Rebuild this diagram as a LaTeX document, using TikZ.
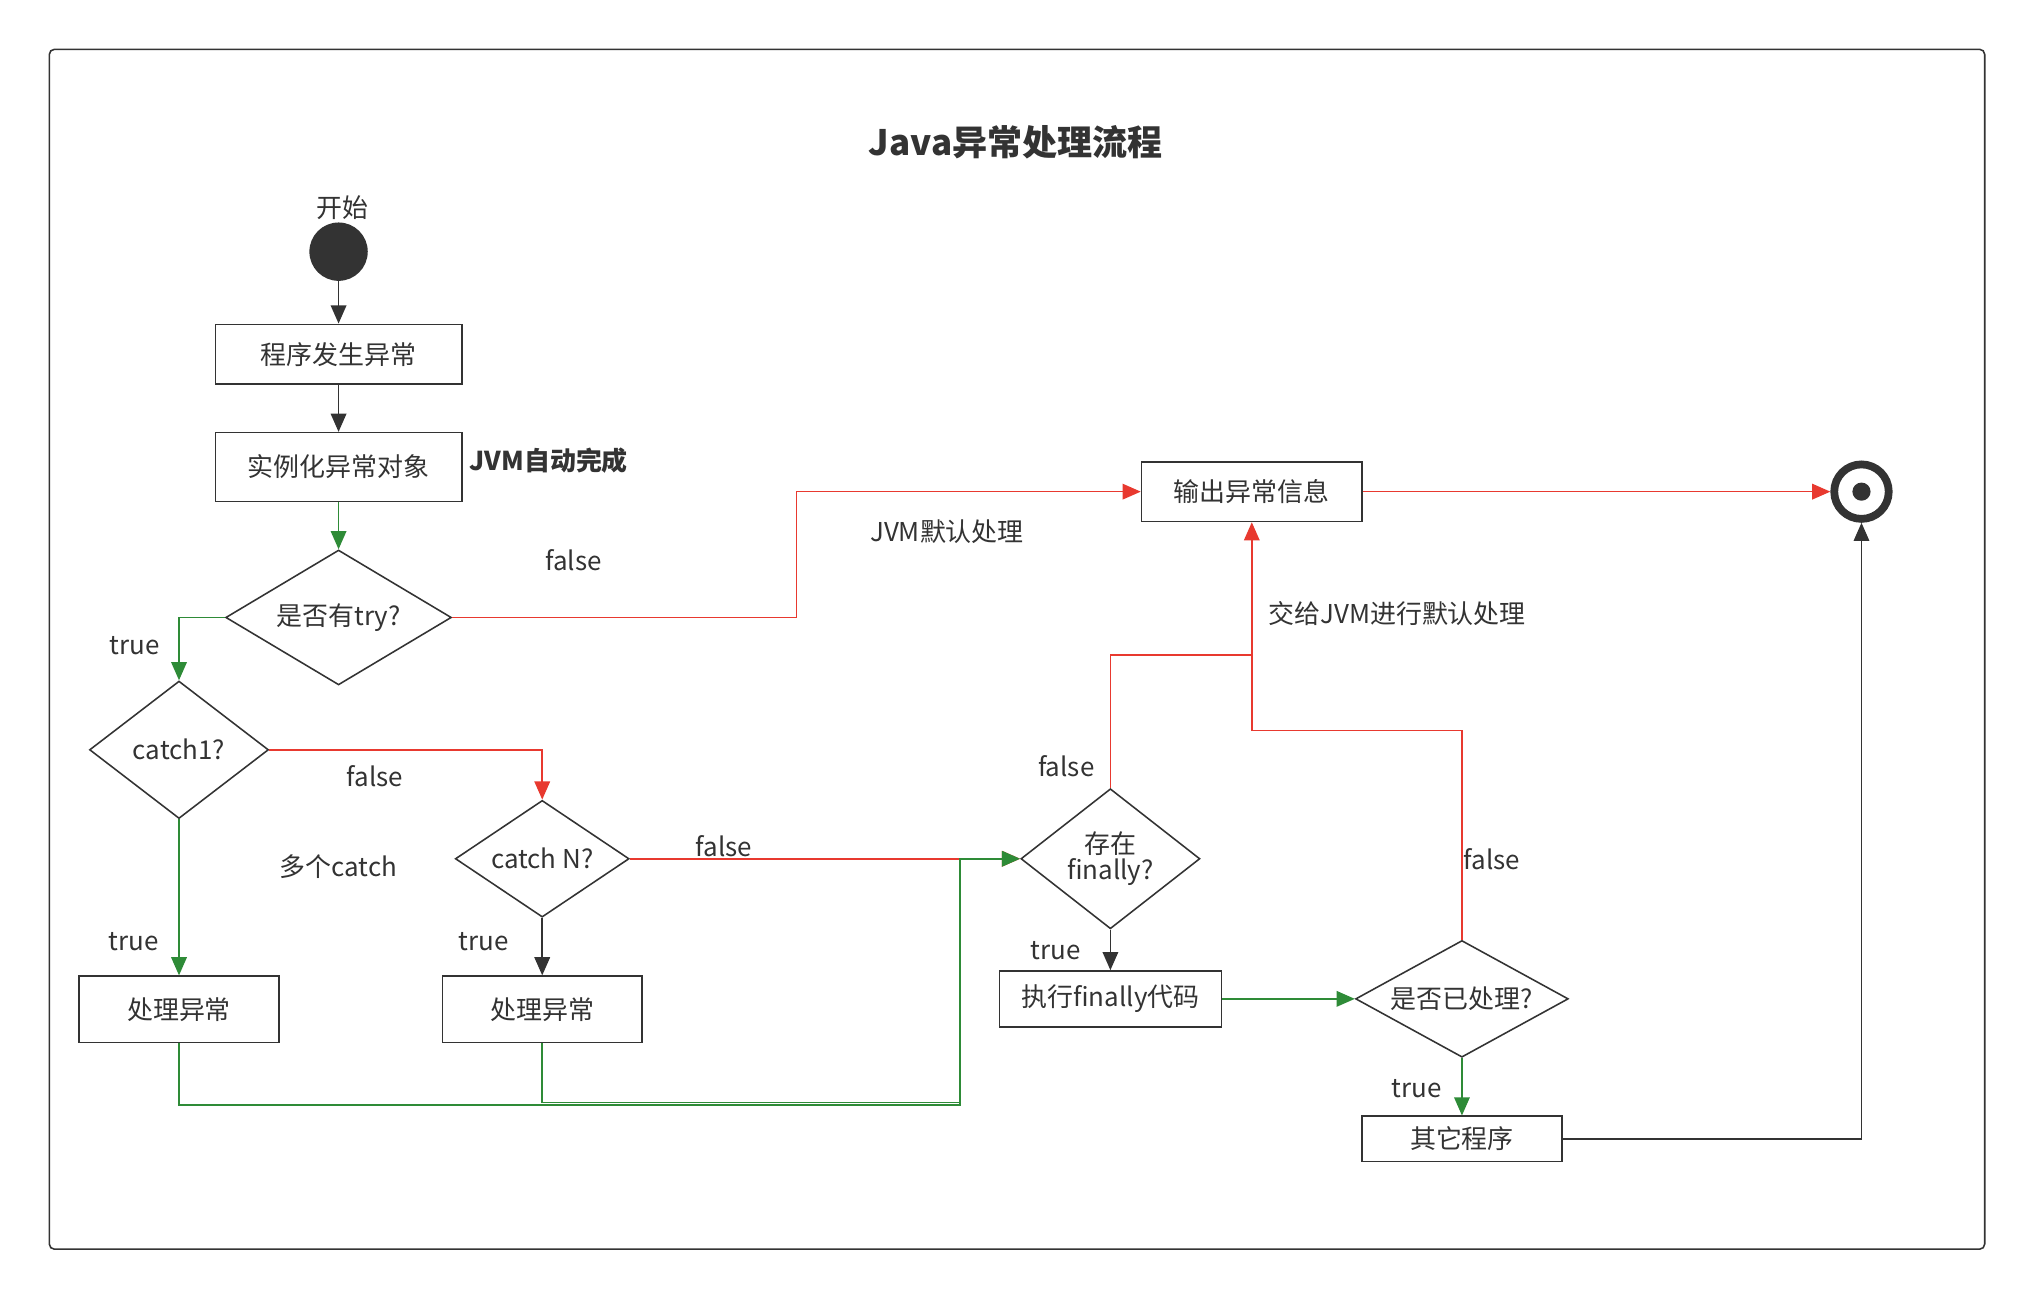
\documentclass[tikz,border=0pt]{standalone}
\usepackage{fontspec}
\setmainfont{Noto Sans CJK SC}
\usetikzlibrary{shapes.geometric,arrows.meta}
\definecolor{rd}{HTML}{E8392F}
\definecolor{gn}{HTML}{2E8B37}
\definecolor{bk}{HTML}{333333}
\begin{document}
\begin{tikzpicture}[x=0.5pt,y=-0.5pt,
 font=\fontsize{10}{12}\selectfont, text=bk,
 box/.style={draw=bk,line width=0.6pt,rectangle,inner sep=0pt},
 dia/.style={draw=bk,line width=0.6pt,diamond,inner sep=0pt,align=center},
 lbl/.style={inner sep=0pt},
 ar/.style={line width=0.6pt,-{Triangle[length=7pt,width=6pt]}},
 ln/.style={line width=0.6pt}]
\fill[white] (0,0) rectangle (1568,997);
\draw[bk,line width=0.6pt,rounded corners=2pt] (38,38) rectangle (1530,963);
\node[lbl,font=\fontsize{13.5}{16}\selectfont\bfseries] (title) at (783,110) {Java异常处理流程};
\node[lbl] (startl) at (264,160) {开始};
\node[circle,fill=bk,minimum size=22.5pt,inner sep=0pt] (start) at (261,194) {};
\node[box,minimum width=95pt,minimum height=23pt] (b1) at (261,273) {程序发生异常};
\node[box,minimum width=95pt,minimum height=26.5pt] (b2) at (261,360) {实例化异常对象};
\node[lbl,font=\fontsize{10}{12}\selectfont\bfseries] (jvm) at (423,355) {JVM自动完成};
\node[dia,shape aspect=1.67,minimum width=87pt,minimum height=52pt] (try) at (261,476) {是否有try?};
\node[dia,shape aspect=1.3,minimum width=69pt,minimum height=53pt] (c1) at (138,578) {catch1?};
\node[dia,shape aspect=1.5,minimum width=67pt,minimum height=45pt] (cn) at (418,662) {catch N?};
\node[dia,shape aspect=1.28,minimum width=69pt,minimum height=54pt] (fin) at (856,662) {存在\\[-2pt]finally?};
\node[dia,shape aspect=1.8,minimum width=82pt,minimum height=45pt] (hd) at (1127,770) {是否已处理?};
\node[box,minimum width=85pt,minimum height=23pt] (out) at (965,379) {输出异常信息};
\node[circle,draw=bk,line width=3pt,minimum size=21pt,inner sep=0pt] (end) at (1435,379) {};
\fill[bk] (end.center) circle (7);
\node[box,minimum width=77pt,minimum height=25.5pt] (h1) at (138,778) {处理异常};
\node[box,minimum width=77pt,minimum height=25.5pt] (h2) at (418,778) {处理异常};
\node[box,minimum width=85.5pt,minimum height=21.5pt] (exec) at (856,770) {执行finally代码};
\node[box,minimum width=77pt,minimum height=17.5pt] (other) at (1127,878) {其它程序};
% labels
\node[lbl] (l1) at (104,498) {true};
\node[lbl] (l2) at (442,432) {false};
\node[lbl] (l3) at (730,410) {JVM默认处理};
\node[lbl] (l4) at (289,598) {false};
\node[lbl] (l5) at (261,668) {多个catch};
\node[lbl] (l6) at (103,726) {true};
\node[lbl] (l7) at (373,726) {true};
\node[lbl] (l8) at (558,652) {false};
\node[lbl] (l9) at (822,591) {false};
\node[lbl] (l10) at (1077,473) {交给JVM进行默认处理};
\node[lbl] (l11) at (814,733) {true};
\node[lbl] (l12) at (1150,662) {false};
\node[lbl] (l13) at (1092,839) {true};
\coordinate (j) at (965,505);
% edges
\draw[ar,bk] (start) -- (b1);
\draw[ar,bk] (b1) -- (b2);
\draw[ar,gn] (b2) -- (try);
\draw[ar,gn] (try.west) -| (c1.north);
\draw[ar,rd] (try.east) -- (614,476) |- (out.west);
\draw[ar,rd] (c1.east) -| (cn.north);
\draw[ar,gn] (c1.south) -- (h1.north);
\draw[ar,bk] (cn.south) -- (h2.north);
\draw[ar,rd] (cn.east) -- (fin.west);
\draw[ar,gn] (h1.south) -- (138,852) -- (740,852) -- (740,662) -- (fin.west);
\draw[ln,gn] (h2.south) -- (418,850) -- (740,850);
\draw[ar,rd] (fin.north) |- (j) -- (out.south);
\draw[ln,rd] (hd.north) -- (1127,563) -| (j);
\draw[ar,bk] (fin.south) -- (exec.north);
\draw[ar,gn] (exec.east) -- (hd.west);
\draw[ar,gn] (hd.south) -- (other.north);
\draw[ar,bk] (other.east) -| (end.south);
\draw[ar,rd] (out.east) -- (end.west);
\end{tikzpicture}
\end{document}
